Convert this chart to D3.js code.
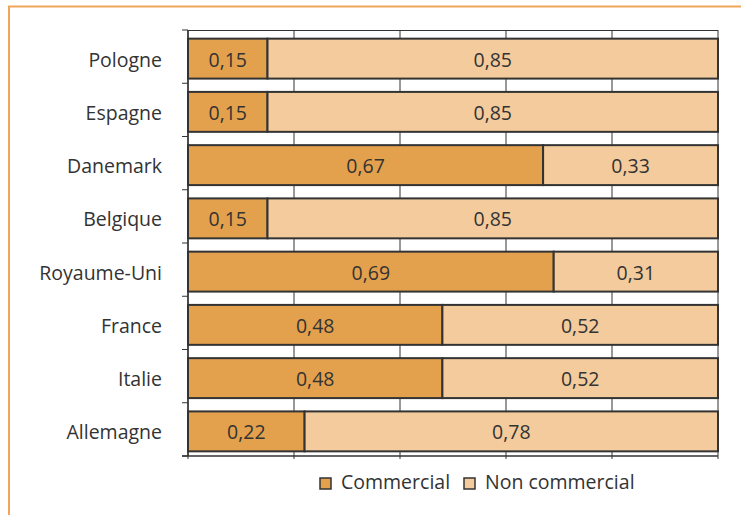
<!DOCTYPE html>
<meta charset="utf-8">
<style>
    body { margin: 0; background: #fff; }
    text { font-family: "Open Sans", "Lato", sans-serif; fill: #333; }
</style>
<svg width="741" height="515"></svg>
<script src="https://d3js.org/d3.v7.min.js"></script>
<script>

    var countries = ["Pologne", "Espagne", "Danemark", "Belgique", "Royaume-Uni", "France", "Italie", "Allemagne"];
    var commercial = [0.15, 0.15, 0.67, 0.15, 0.69, 0.48, 0.48, 0.22];
    var nonCommercial = [0.85, 0.85, 0.33, 0.85, 0.31, 0.52, 0.52, 0.78];
    var seriesNames = ["Commercial", "Non commercial"];
    var xTicks = [0, 0.2, 0.4, 0.6, 0.8, 1];

    var colors = ["#e3a14e", "#f4cb9c"];

    var svg = d3.select("svg");

    // orange frame
    svg.append("path")
        .attr("d", "M9,515 V6.5 H741")
        .attr("fill", "none")
        .attr("stroke", "#f0a65a")
        .attr("stroke-width", 2);

    var pLeft = 188, pRight = 718, pTop = 30, pBottom = 456;
    var fs = 19.5;

    var x = d3.scaleLinear().domain([0, 1]).range([pLeft, pRight]);
    var y = d3.scaleBand().domain(countries).range([pTop, pBottom]).paddingInner(0.25).paddingOuter(0.125);

    // grid
    svg.append("g")
        .selectAll("line")
        .data(xTicks)
        .enter()
        .append("line")
        .attr("x1", function(d) { return x(d); })
        .attr("x2", function(d) { return x(d); })
        .attr("y1", pTop)
        .attr("y2", pBottom)
        .attr("stroke", "#333")
        .attr("stroke-width", 1);

    svg.append("line")
        .attr("x1", pLeft).attr("x2", pRight)
        .attr("y1", pTop + 0.5).attr("y2", pTop + 0.5)
        .attr("stroke", "#333");

    var rows = countries.map(function(c, i) {
        return { name: c, vals: [commercial[i], nonCommercial[i]] };
    });

    var g = svg.append("g")
        .selectAll("g")
        .data(rows)
        .enter()
        .append("g")
        .attr("transform", function(d) { return "translate(0," + (y(d.name) + 2) + ")"; });

    g.each(function(d) {
        var sel = d3.select(this);
        var start = 0;
        d.vals.forEach(function(v, k) {
            sel.append("rect")
                .attr("x", x(start))
                .attr("y", 0)
                .attr("width", x(start + v) - x(start))
                .attr("height", y.bandwidth())
                .attr("fill", colors[k])
                .attr("stroke", "#333")
                .attr("stroke-width", 2);
            sel.append("text")
                .attr("x", (x(start) + x(start + v)) / 2)
                .attr("y", y.bandwidth() / 2 + 1)
                .attr("dy", "0.36em")
                .attr("text-anchor", "middle")
                .attr("font-size", fs)
                .text(d3.format(".2f")(v).replace(".", ","));
            start += v;
        });
    });

    // y axis
    var yAxis = svg.append("g")
        .attr("transform", "translate(" + pLeft + ",0)");
    yAxis.append("line")
        .attr("x1", 0).attr("x2", 0)
        .attr("y1", pTop).attr("y2", pBottom)
        .attr("stroke", "#333").attr("stroke-width", 1.5);
    var bounds = countries.map(function(c) { return y(c) - y.step() * y.paddingInner() / 2; });
    bounds.push(pBottom);
    yAxis.selectAll(".tk")
        .data(bounds)
        .enter()
        .append("line")
        .attr("x1", -6).attr("x2", 0)
        .attr("y1", function(d) { return d; })
        .attr("y2", function(d) { return d; })
        .attr("stroke", "#333");
    yAxis.selectAll("text")
        .data(countries)
        .enter()
        .append("text")
        .attr("x", -26)
        .attr("y", function(d) { return y(d) + y.bandwidth() / 2 + 3; })
        .attr("dy", "0.36em")
        .attr("text-anchor", "end")
        .attr("font-size", fs)
        .text(function(d) { return d; });

    // x axis
    var xAxis = svg.append("g");
    xAxis.append("line")
        .attr("x1", pLeft - 6).attr("x2", pRight)
        .attr("y1", pBottom).attr("y2", pBottom)
        .attr("stroke", "#333").attr("stroke-width", 1.5);
    xAxis.selectAll(".tk")
        .data(xTicks)
        .enter()
        .append("line")
        .attr("x1", function(d) { return x(d); })
        .attr("x2", function(d) { return x(d); })
        .attr("y1", pBottom).attr("y2", pBottom + 3)
        .attr("stroke", "#333");

    // legend
    var legX = [320, 464];
    var leg = svg.append("g")
        .selectAll("g")
        .data(seriesNames)
        .enter()
        .append("g")
        .attr("transform", function(d, i) { return "translate(" + legX[i] + ",478)"; });
    leg.append("rect")
        .attr("width", 11).attr("height", 11)
        .attr("fill", function(d, i) { return colors[i]; })
        .attr("stroke", "#333").attr("stroke-width", 1.5);
    leg.append("text")
        .attr("x", 21)
        .attr("y", 4)
        .attr("dy", "0.36em")
        .attr("font-size", fs)
        .text(function(d) { return d; });

</script>
